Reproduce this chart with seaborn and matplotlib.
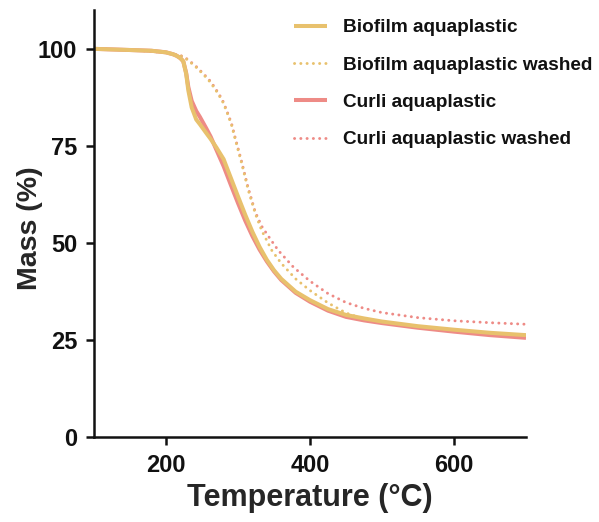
import matplotlib
matplotlib.use("Agg")
import matplotlib.pyplot as plt
import seaborn as sns
import pandas as pd

# ---- data ----
t_biofilm = [100, 150, 180, 200, 210, 215, 220, 224, 228, 231, 235.7, 242, 247, 256, 262, 270, 280, 290, 300,
             310, 320, 330, 340, 350, 360, 380, 400, 425, 450, 475, 500, 550, 600, 650, 700]
m_biofilm = [100, 99.7, 99.5, 99.1, 98.6, 98.2, 97.6, 96.8, 93.6, 89.3, 84.9, 81.8, 80.6, 78.3, 76.8, 74.6, 71.6,
             66.8, 62.0, 57.3, 52.9, 49.0, 45.7, 43.0, 40.8, 37.5, 35.3, 33.0, 31.5, 30.6, 29.8, 28.6, 27.7, 26.9, 26.3]

t_curli = [100, 150, 180, 200, 210, 215, 220, 224, 228, 231, 235.7, 242, 247, 256, 262, 270, 280, 290, 300,
           310, 320, 330, 340, 350, 360, 380, 400, 425, 450, 475, 500, 550, 600, 650, 700]
m_curli = [100, 99.7, 99.5, 99.1, 98.6, 98.2, 97.6, 96.8, 93.8, 90.2, 86.6, 84.0, 82.5, 79.5, 77.4, 74.0, 69.8,
           65.0, 60.3, 55.8, 51.8, 48.3, 45.3, 42.7, 40.5, 37.2, 34.9, 32.6, 31.0, 30.1, 29.4, 28.2, 27.2, 26.3, 25.6]

t_biofilm_w = [100, 150, 180, 200, 215, 225, 240, 252, 262, 270, 278, 284, 291, 296, 305, 314, 324, 333,
               347, 360, 380, 400, 425, 450, 475, 500, 550, 600, 650, 700]
m_biofilm_w = [100, 99.7, 99.4, 99.0, 98.5, 97.9, 95.6, 93.4, 91.3, 89.1, 86.7, 84.0, 80.4, 76.8, 70.6, 63.8,
               57.6, 53.2, 48.1, 44.8, 40.8, 37.8, 34.6, 32.0, 30.4, 29.5, 28.3, 27.4, 26.7, 26.0]

t_curli_w = [100, 150, 180, 200, 215, 225, 240, 252, 262, 270, 278, 284, 291, 296, 305, 314, 324, 333,
             345, 356, 377, 400, 425, 450, 475, 500, 550, 600, 650, 700]
m_curli_w = [100, 99.7, 99.4, 99.0, 98.5, 98.0, 95.8, 93.6, 91.6, 89.4, 87.0, 84.3, 80.8, 77.2, 71.0, 64.3,
             58.0, 54.3, 51.0, 48.1, 43.8, 40.2, 37.0, 34.7, 33.2, 32.1, 30.8, 30.0, 29.5, 29.1]

labels = ["Biofilm aquaplastic", "Biofilm aquaplastic washed", "Curli aquaplastic", "Curli aquaplastic washed"]
xticks = [200, 400, 600]
yticks = [0, 25, 50, 75, 100]

YELLOW = "#E8C16D"
RED = "#EE8B86"

sns.set_style("ticks")
plt.rcParams['font.family'] = ['Liberation Sans', 'DejaVu Sans']
plt.rcParams['font.weight'] = 'bold'

fig = plt.figure(figsize=(5.99, 5.22), dpi=100)
ax = fig.add_axes([94/599, (522-437.3)/522, (526-94)/599, (437.3-10)/522])

series = [
    (t_biofilm, m_biofilm, YELLOW, "-", labels[0]),
    (t_biofilm_w, m_biofilm_w, YELLOW, ":", labels[1]),
    (t_curli, m_curli, RED, "-", labels[2]),
    (t_curli_w, m_curli_w, RED, ":", labels[3]),
]
# draw order: curli solid under biofilm solid
order = [3, 1, 2, 0]
for i in order:
    t, m, c, ls, lab = series[i]
    df = pd.DataFrame({"T": t, "M": m})
    lw = 2.9 if ls == "-" else 2.1
    sns.lineplot(data=df, x="T", y="M", ax=ax, color=c, lw=lw, label=lab,
                 linestyle=ls, solid_capstyle="butt", dash_capstyle="round")
    if ls == ":":
        ax.lines[-1].set_dashes((0.05, 2.1))

ax.set_xlim(100, 700)
ax.set_ylim(0, 110)
ax.set_xticks(xticks)
ax.set_yticks(yticks)
for s in ["top", "right"]:
    ax.spines[s].set_visible(False)
for s in ["left", "bottom"]:
    ax.spines[s].set_linewidth(1.8)
    ax.spines[s].set_color("#111111")
ax.tick_params(axis="both", width=1.8, length=6, labelsize=17, colors="#111111", pad=6)
for lab in ax.get_xticklabels() + ax.get_yticklabels():
    lab.set_fontweight("bold")
ax.set_xlabel("Temperature (°C)", fontsize=22, fontweight="bold", labelpad=4)
ax.set_ylabel("Mass (%)", fontsize=20.5, fontweight="bold")
ax.yaxis.set_label_coords(-0.118, 0.49)

h, l = ax.get_legend_handles_labels()
idx = [l.index(x) for x in labels]
leg = ax.legend([h[i] for i in idx], [l[i] for i in idx], loc="upper left",
                bbox_to_anchor=(294/599, 1 - 19/522), bbox_transform=fig.transFigure,
                frameon=False, fontsize=13.7, handlelength=1.75, handletextpad=0.85,
                labelspacing=1.05, borderaxespad=0, borderpad=0)
for t in leg.get_texts():
    t.set_fontweight("bold")
    t.set_color("#111111")

fig.savefig("out.png", dpi=100)
